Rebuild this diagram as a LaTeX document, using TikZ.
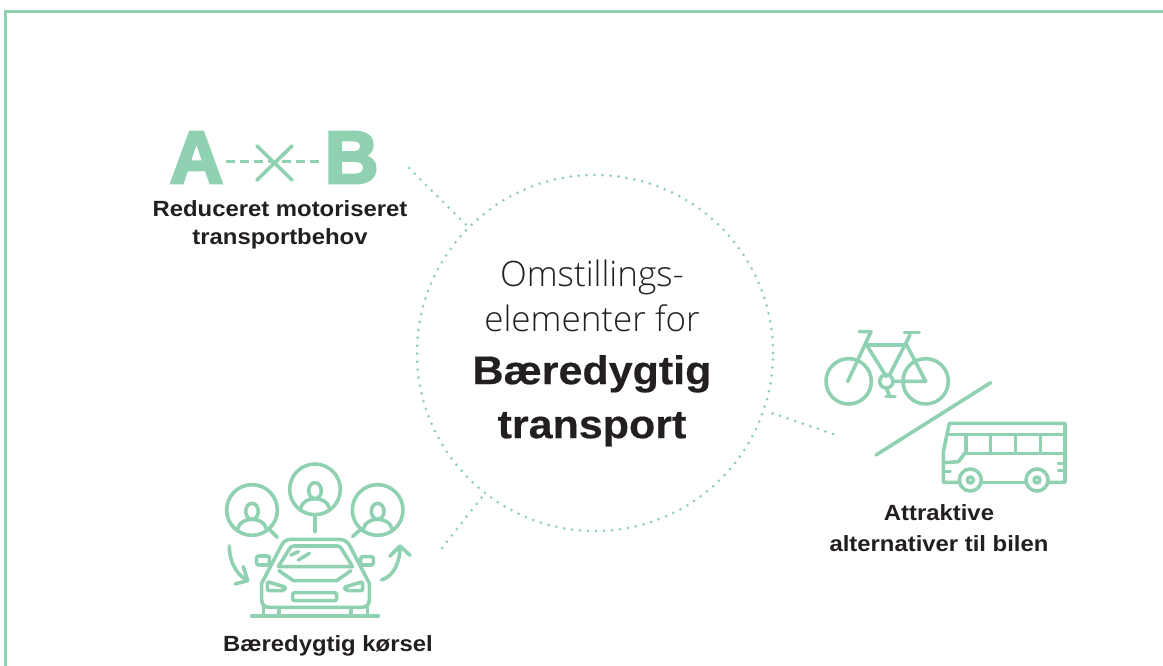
\documentclass[tikz,border=0pt]{standalone}
\usepackage{fontspec}
\setmainfont{Liberation Sans}
\newfontfamily\LightFont{Open Sans Light}
\newfontfamily\HeavyFont[FakeBold=4]{Liberation Sans Bold}
\newfontfamily\LabelFont[FakeStretch=1.085]{Liberation Sans Bold}
\newfontfamily\TitleFont[FakeStretch=1.075,FakeBold=0.4]{Liberation Sans Bold}
\newcommand{\TitleLine}{\fontsize{40}{54}\selectfont\TitleFont}
\definecolor{LogoGreen}{HTML}{8FD1B0}
\definecolor{TextBlack}{HTML}{231F20}

\begin{document}
\begin{tikzpicture}[x=1pt,y=-1pt]
    \useasboundingbox (0,0) rectangle (1163,666);
    \tikzset{FrameStyle/.style = {line width=3pt, color=LogoGreen}}
    \tikzset{DotStyle/.style = {line width=3pt, color=LogoGreen, line cap=round, dash pattern=on 0pt off 8pt}}
    \tikzset{IconStyle/.style = {line width=3.6pt, color=LogoGreen, line cap=round, line join=round}}
    \tikzset{LabelStyle/.style = {align=center, text=TextBlack, inner sep=0pt, font=\fontsize{22}{28}\selectfont\LabelFont}}
    \tikzset{LetterStyle/.style = {text=LogoGreen, inner sep=3pt, text depth=9pt, font=\fontsize{74}{74}\selectfont\HeavyFont}}

    \draw[FrameStyle] (5,666) |- (1163,12);

    \node[circle, minimum size=356pt, inner sep=0pt, align=center, text=TextBlack, draw=LogoGreen, line width=3pt, line cap=round, dash pattern=on 0pt off 8pt, font=\fontsize{35}{47}\selectfont\LightFont] (Hub) at (595,353)
        {Omstillings-\kern6pt\\[-2pt] elementer for\kern6pt\\[6pt] \TitleLine Bæredygtig\kern6pt\\[7pt] \TitleLine transport\kern6pt};

    \coordinate (DemandEnd) at (409,168);
    \coordinate (DrivingEnd) at (442,548);
    \coordinate (TransitEnd) at (833,434);
    \draw[DotStyle] (DemandEnd) -- (Hub);
    \draw[DotStyle] (DrivingEnd) -- (Hub);
    \draw[DotStyle] (TransitEnd) -- (Hub);

    \node[LetterStyle] (A) at (196.5,162) {A};
    \node[LetterStyle] (B) at (351.7,162) {B};
    \draw[IconStyle, line cap=butt, line width=3pt, dash pattern=on 9pt off 5pt] (A) -- (B);
    \draw[IconStyle] (257,146) -- (292,180);
    \draw[IconStyle] (292,146) -- (257,180);

    \node[LabelStyle] (DemandLabel) at (280,225) {Reduceret motoriseret\\ transportbehov};
    \node[LabelStyle] (DrivingLabel) at (328,646) {Bæredygtig kørsel};
    \node[LabelStyle] (TransitLabel) at (939,528) {Attraktive\\[3pt] alternativer til bilen};

    \begin{scope}[shift={(210,450)},scale=1/3,IconStyle]
        \foreach \px/\py in {126/180,315/118,503/180}{
            \draw (\px,\py) circle [radius=76];
            \draw (\px,\py+4) ellipse [x radius=19,y radius=24];
            \draw (\px-43,\py+56) .. controls (\px-38,\py+36) and (\px-18,\py+28) .. (\px,\py+28) .. controls (\px+18,\py+28) and (\px+38,\py+36) .. (\px+43,\py+56);
        }
        \draw (175,235) -- (202,262);
        \draw (315,195) -- (315,245);
        \draw (455,235) -- (428,260);
        \draw (58,288) .. controls (58,330) and (75,370) .. (110,390);
        \draw (75,402) -- (113,392) -- (100,350);
        \draw (515,390) .. controls (550,378) and (570,340) .. (570,290);
        \draw (540,318) -- (570,288) -- (600,316);
        \draw (155,450) -- (155,400) -- (215,285) .. controls (222,273) and (230,268) .. (245,268) -- (385,268) .. controls (400,268) and (410,273) .. (418,285) -- (478,400) -- (478,450) .. controls (478,465) and (468,472) .. (455,472) -- (178,472) .. controls (165,472) and (155,465) .. (155,450) -- cycle;
        \draw (205,350) -- (238,297) .. controls (241,291) and (245,288) .. (252,288) -- (382,288) .. controls (388,288) and (392,291) .. (395,297) -- (428,350) -- cycle;
        \draw (243,315) -- (265,305);
        \draw (265,330) -- (298,310);
        \draw (207,362) -- (250,392) -- (380,392) -- (423,362);
        \draw[rounded corners=2pt] (140,318) rectangle (178,345);
        \draw[rounded corners=2pt] (452,320) rectangle (490,345);
        \draw[rounded corners=2pt] (172,395) -- (228,412) -- (222,422) -- (172,422) -- cycle;
        \draw[rounded corners=2pt] (458,395) -- (402,412) -- (408,422) -- (458,422) -- cycle;
        \draw[rounded corners=1.5pt] (248,428) rectangle (380,452);
        \draw (125,498) -- (505,498);
        \foreach \wx in {160,207,423,472}{
            \draw (\wx,472) -- (\wx,498);
        }
    \end{scope}

    \begin{scope}[shift={(810,320)},scale=1/3,IconStyle]
        \draw (116,184) circle [radius=68];
        \draw (347,184) circle [radius=68];
        \draw (229,184) circle [radius=20];
        \draw (148,35) -- (183,35) -- (113,185);
        \draw (170,75) -- (290,75);
        \draw (170,75) -- (229,170);
        \draw (238,166) -- (300,45);
        \draw (283,38) -- (328,38);
        \draw (290,75) -- (347,184) -- (248,184);
        \draw (229,205) -- (240,230);
        \draw (228,230) -- (255,230);
        \draw (198,405) -- (542,188);
        \draw (445,487) -- (400,487) -- (400,395) -- (418,310) -- (765,310) -- (765,487) -- (715,487);
        \draw (515,487) -- (645,487);
        \draw (412,343) -- (765,343);
        \draw (462,400) -- (765,400);
        \foreach \wx in {541,617,692}{
            \draw (\wx,343) -- (\wx,400);
        }
        \draw (468,343) -- (468,395) -- (445,425) -- (405,428);
        \draw (745,430) -- (765,430);
        \draw (745,452) -- (765,452);
        \draw (405,455) -- (420,455);
        \foreach \wx in {481,681}{
            \draw (\wx,480) circle [radius=33];
            \draw (\wx,480) circle [radius=9];
        }
    \end{scope}
\end{tikzpicture}
\end{document}
